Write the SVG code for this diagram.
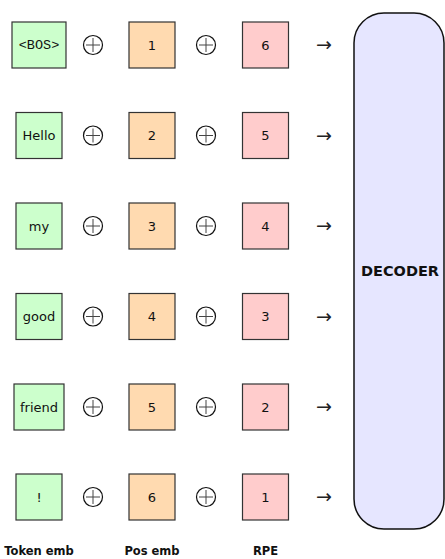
<svg xmlns="http://www.w3.org/2000/svg" width="445" height="559" viewBox="0 0 445 559">
<style>
.box{stroke:#333;stroke-width:1.2}
.tok{fill:#ccffcc}
.pos{fill:#ffdab0}
.rpe{fill:#ffcccc}
.t{font-family:"DejaVu Sans","Liberation Sans",sans-serif;font-size:13px;fill:#111;text-anchor:middle;dominant-baseline:central}
.mono{font-family:"Liberation Mono","DejaVu Sans Mono",monospace;font-size:13.5px}
.lbl{font-family:"DejaVu Sans","Liberation Sans",sans-serif;font-size:11.5px;font-weight:bold;fill:#111;text-anchor:middle}
.plus circle{fill:none;stroke:#111;stroke-width:1.2}
.plus line{stroke:#444;stroke-width:1}
.arr{font-family:"DejaVu Sans",sans-serif;font-size:19px;fill:#222;text-anchor:middle;dominant-baseline:central}
</style>
<defs>
<g id="plus" class="plus"><circle cx="0" cy="0" r="9.5"/><line x1="-7" y1="0" x2="7" y2="0"/><line x1="0" y1="-7" x2="0" y2="7"/></g>
</defs>
<g id="decoder">
<rect x="354" y="13" width="90" height="516" rx="30" ry="30" fill="#e6e6ff" stroke="#111" stroke-width="1.5"/>
<text x="400" y="271" class="t" style="font-weight:bold;font-size:14.5px">DECODER</text>
</g>
<g id="row1">
<g id="tok1"><rect class="box tok" x="12" y="22" width="54" height="46"/><text class="t mono" x="39" y="45">&lt;BOS&gt;</text></g>
<use href="#plus" x="93" y="45"/>
<g id="pos1"><rect class="box pos" x="129" y="22" width="46" height="46"/><text class="t" x="152" y="45">1</text></g>
<use href="#plus" x="206" y="45"/>
<g id="rpe1"><rect class="box rpe" x="242.5" y="22" width="46" height="46"/><text class="t" x="265.5" y="45">6</text></g>
</g>
<g id="row2">
<g id="tok2"><rect class="box tok" x="16" y="112.5" width="46" height="46"/><text class="t" x="39" y="135.5">Hello</text></g>
<use href="#plus" x="93" y="135.5"/>
<g id="pos2"><rect class="box pos" x="129" y="112.5" width="46" height="46"/><text class="t" x="152" y="135.5">2</text></g>
<use href="#plus" x="206" y="135.5"/>
<g id="rpe2"><rect class="box rpe" x="242.5" y="112.5" width="46" height="46"/><text class="t" x="265.5" y="135.5">5</text></g>
</g>
<g id="row3">
<g id="tok3"><rect class="box tok" x="16" y="203" width="46" height="46"/><text class="t" x="39" y="226">my</text></g>
<use href="#plus" x="93" y="226"/>
<g id="pos3"><rect class="box pos" x="129" y="203" width="46" height="46"/><text class="t" x="152" y="226">3</text></g>
<use href="#plus" x="206" y="226"/>
<g id="rpe3"><rect class="box rpe" x="242.5" y="203" width="46" height="46"/><text class="t" x="265.5" y="226">4</text></g>
</g>
<g id="row4">
<g id="tok4"><rect class="box tok" x="16" y="293.5" width="46" height="46"/><text class="t" x="39" y="316.5">good</text></g>
<use href="#plus" x="93" y="316.5"/>
<g id="pos4"><rect class="box pos" x="129" y="293.5" width="46" height="46"/><text class="t" x="152" y="316.5">4</text></g>
<use href="#plus" x="206" y="316.5"/>
<g id="rpe4"><rect class="box rpe" x="242.5" y="293.5" width="46" height="46"/><text class="t" x="265.5" y="316.5">3</text></g>
</g>
<g id="row5">
<g id="tok5"><rect class="box tok" x="14" y="384" width="50" height="46"/><text class="t" x="39" y="407">friend</text></g>
<use href="#plus" x="93" y="407"/>
<g id="pos5"><rect class="box pos" x="129" y="384" width="46" height="46"/><text class="t" x="152" y="407">5</text></g>
<use href="#plus" x="206" y="407"/>
<g id="rpe5"><rect class="box rpe" x="242.5" y="384" width="46" height="46"/><text class="t" x="265.5" y="407">2</text></g>
</g>
<g id="row6">
<g id="tok6"><rect class="box tok" x="16" y="474" width="46" height="46"/><text class="t" x="39" y="497">!</text></g>
<use href="#plus" x="93" y="497"/>
<g id="pos6"><rect class="box pos" x="129" y="474" width="46" height="46"/><text class="t" x="152" y="497">6</text></g>
<use href="#plus" x="206" y="497"/>
<g id="rpe6"><rect class="box rpe" x="242.5" y="474" width="46" height="46"/><text class="t" x="265.5" y="497">1</text></g>
</g>
<g id="connectors">
<text class="arr" x="324" y="44">→</text>
<text class="arr" x="324" y="134.5">→</text>
<text class="arr" x="324" y="225">→</text>
<text class="arr" x="324" y="315.5">→</text>
<text class="arr" x="324" y="406">→</text>
<text class="arr" x="324" y="496">→</text>
</g>
<g id="labels">
<text class="lbl" x="39" y="555">Token emb</text>
<text class="lbl" x="152" y="555">Pos emb</text>
<text class="lbl" x="265.5" y="555">RPE</text>
</g>
</svg>
